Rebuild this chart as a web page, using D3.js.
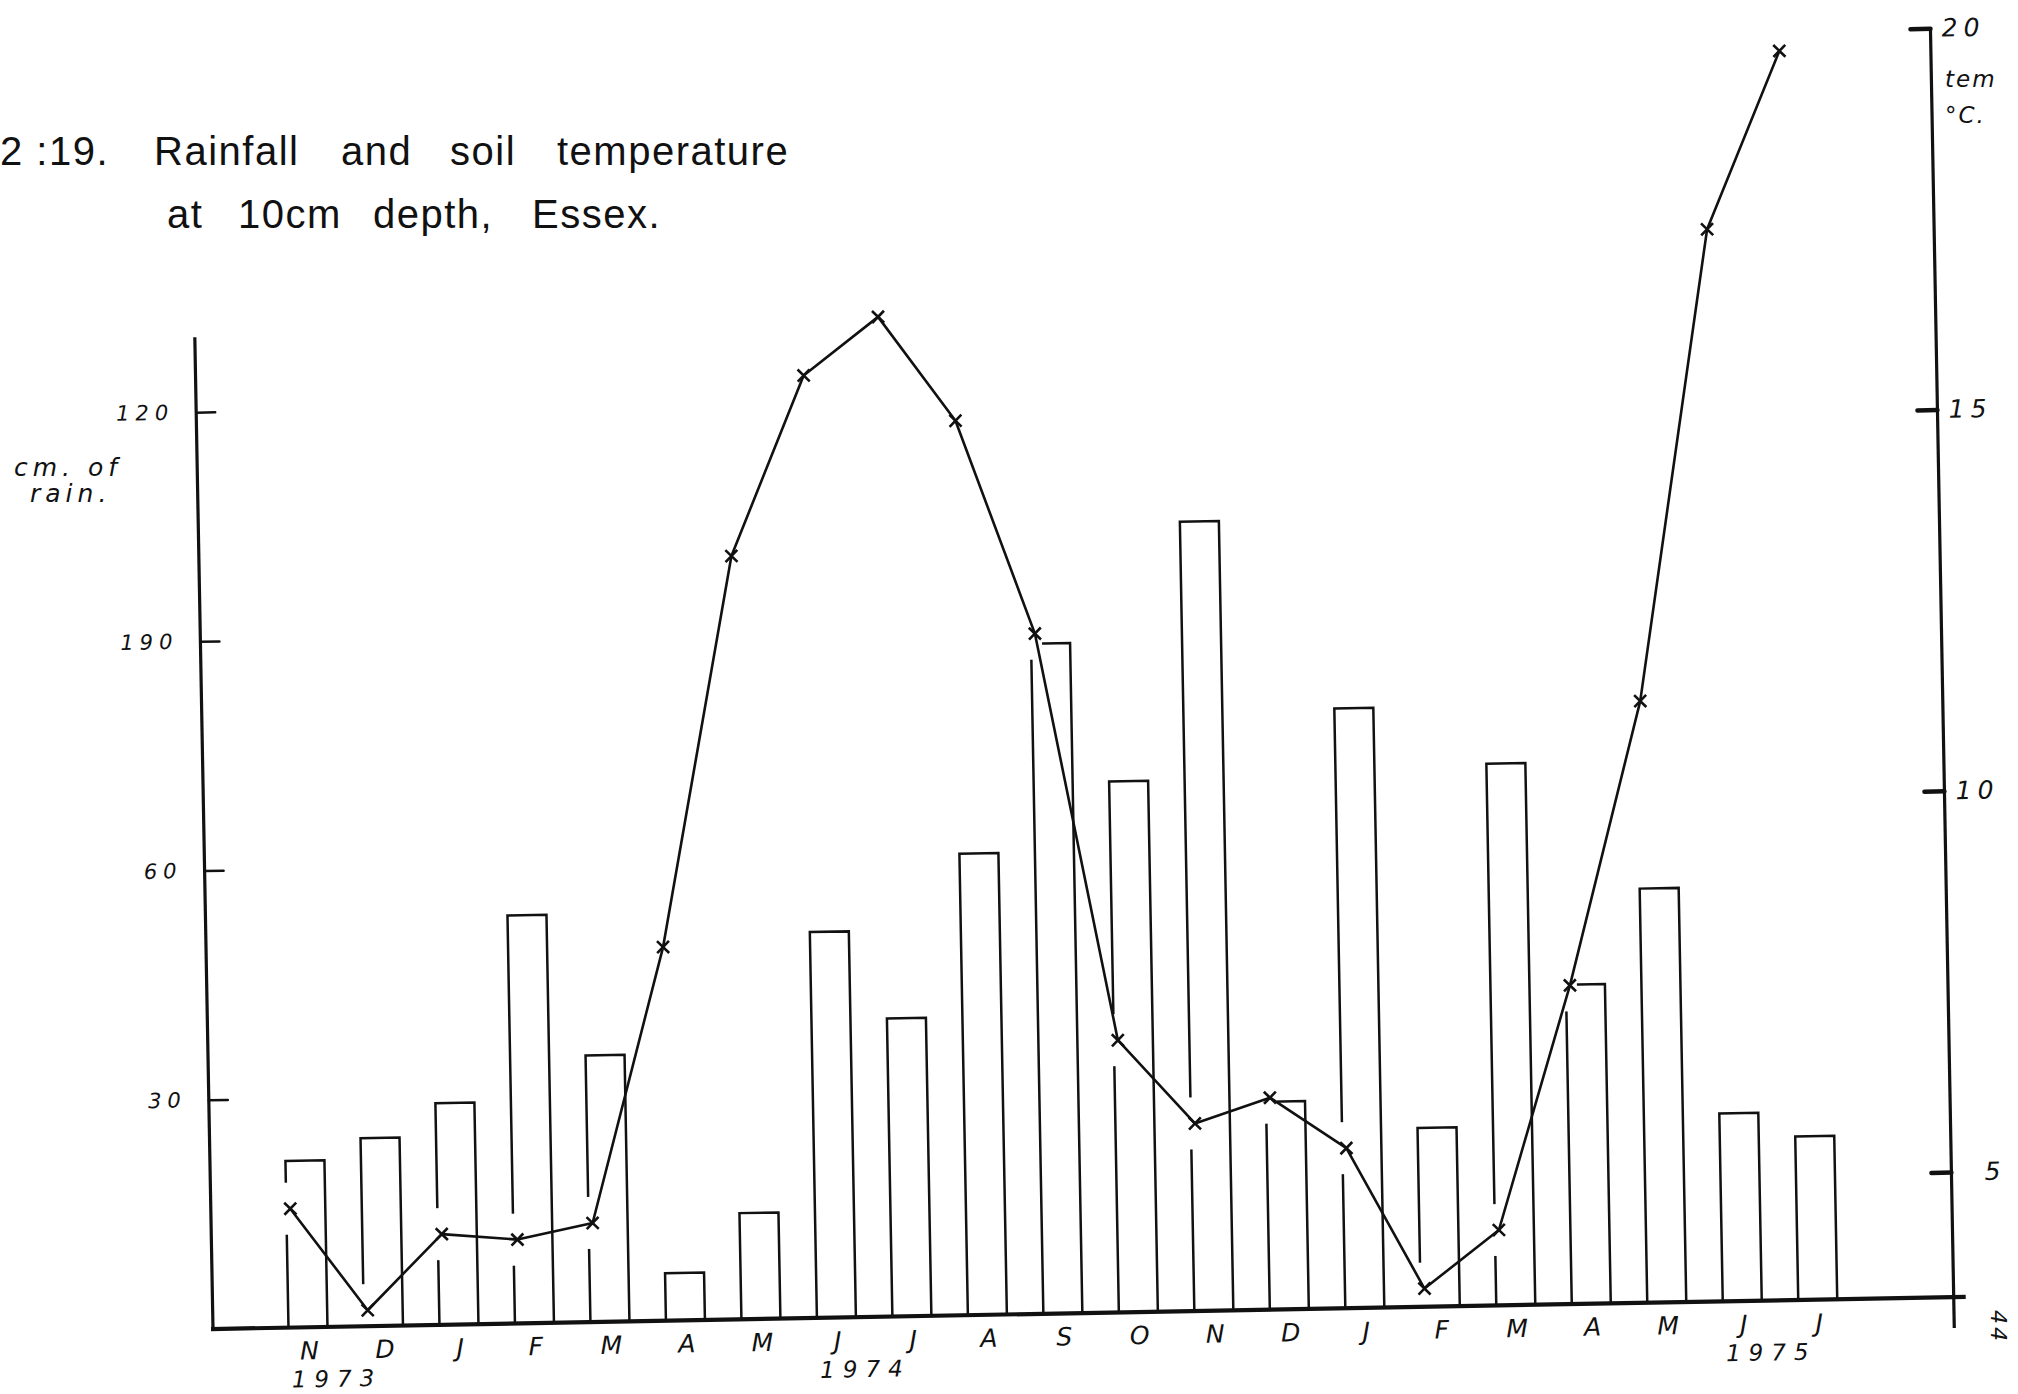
<!DOCTYPE html>
<html lang="en">
<head>
<meta charset="utf-8">
<title>Rainfall and soil temperature</title>
<script src="https://d3js.org/d3.v7.min.js"></script>
<style>
  body { margin: 0; background: #fff; }
  svg { display: block; background: #fff; }
  .title { font-family: "Liberation Sans", Arial, sans-serif; font-size: 40px; fill: #111; letter-spacing: 1.5px; }
  .lbl { font-family: "DejaVu Sans", sans-serif; font-style: italic; fill: #111; }
  .axis path.domain { display: none; }
  .axis line { stroke: #111; stroke-linecap: round; }
</style>
</head>
<body>
<div id="chart"></div>
<script>
// months Nov 1973 .. Jul 1975
var months = ["N","D","J","F","M","A","M","J","J","A","S","O","N","D","J","F","M","A","M","J","J"];
// monthly rainfall, read against the left scale
var rain = [21.8, 24.6, 29.0, 53.4, 34.9, 6.2, 13.9, 50.5, 39.0, 60.4, 87.7,
            69.5, 103.3, 27.2, 78.5, 23.4, 70.9, 41.8, 54.2, 24.6, 21.4];
// soil temperature at 10 cm (deg C), right scale
var temp = [4.92, 3.57, 4.55, 4.46, 4.66, 8.26, 13.37, 15.72, 16.47, 15.09, 12.28,
            6.93, 5.82, 6.14, 5.46, 3.6, 4.35, 7.54, 11.25, 17.42, 19.74];
var yearLabels = ["1973", "1974", "1975"];
var yearAt = [0, 7, 19];
var rainTicks = [30, 60, 90, 120];
var rainTickLabels = ["30", "60", "190", "120"];   // as printed
var tempTicks = [5, 10, 15, 20];

var W = 2018, H = 1394;
var ox = 213, oy = 1329;      // bottom of the left axis
var rightX = 1954;            // right (temperature) axis
var barW = 39;

var svg = d3.select("#chart").append("svg")
    .attr("width", W)
    .attr("height", H);

// the scanned drawing sits about a degree off square
var g = svg.append("g")
    .attr("transform", "rotate(-1.05," + ox + "," + oy + ")");

var x = d3.scalePoint()
    .domain(d3.range(months.length))
    .range([308, 1818]);

var yRain = d3.scaleLinear()
    .domain([0, 120])
    .range([oy, 412]);

var yTemp = d3.scaleLinear()
    .domain([5, 20])
    .range([1204, 60]);

// bars (open at the bottom)
g.append("g").selectAll("path")
  .data(rain)
  .enter().append("path")
    .attr("fill", "none")
    .attr("stroke", "#111")
    .attr("stroke-width", 2.5)
    .attr("d", function(d, i) {
      var x0 = x(i) - barW / 2, x1 = x(i) + barW / 2;
      return "M" + x0 + "," + oy + "V" + yRain(d) + "H" + x1 + "V" + oy;
    });

// axes lines
g.append("line")
    .attr("x1", ox).attr("y1", 337).attr("x2", ox).attr("y2", oy)
    .attr("stroke", "#111").attr("stroke-width", 3.2);
g.append("line")
    .attr("x1", rightX).attr("y1", yTemp(20)).attr("x2", rightX).attr("y2", oy + 31)
    .attr("stroke", "#111").attr("stroke-width", 3.2);

// left axis: ticks point inwards
var leftAxis = g.append("g")
    .attr("class", "axis")
    .attr("transform", "translate(" + ox + ",0)")
    .call(d3.axisLeft(yRain)
      .tickValues(rainTicks)
      .tickFormat(function(d, i) { return rainTickLabels[i]; })
      .tickSize(-19)
      .tickPadding(22));
leftAxis.selectAll("line").attr("stroke-width", 2.5);
leftAxis.selectAll("text")
    .attr("class", "lbl")
    .attr("font-size", 21)
    .attr("letter-spacing", 6)
    .attr("fill", "#111");

// right axis
var rightAxis = g.append("g")
    .attr("class", "axis")
    .attr("transform", "translate(" + rightX + ",0)")
    .call(d3.axisRight(yTemp)
      .tickValues(tempTicks)
      .tickSize(-20)
      .tickPadding(14));
rightAxis.selectAll("line").attr("stroke-width", 4.5);
rightAxis.selectAll("text")
    .attr("class", "lbl")
    .attr("font-size", 25)
    .attr("letter-spacing", 6)
    .attr("text-anchor", "end")
    .attr("x", 55)
    .attr("fill", "#111");

// month and year labels
g.append("g").selectAll("text")
  .data(months)
  .enter().append("text")
    .attr("class", "lbl")
    .attr("font-size", 25)
    .attr("text-anchor", "middle")
    .attr("x", function(d, i) { return x(i) + 1; })
    .attr("y", oy + 32)
    .text(function(d) { return d; });

g.append("g").selectAll("text")
  .data(yearLabels)
  .enter().append("text")
    .attr("class", "lbl")
    .attr("font-size", 23)
    .attr("letter-spacing", 8)
    .attr("text-anchor", "middle")
    .attr("x", function(d, i) { return x(yearAt[i]) + 0.32 * x.step() + 4; })
    .attr("y", oy + 60)
    .text(function(d) { return d; });

// temperature line with x markers; the bar edges break where the line meets them
var tx = function(i) { return x(i) - barW / 2 + 4; };
g.append("g").selectAll("rect")
  .data(temp)
  .enter().append("rect")
    .attr("fill", "#fff")
    .attr("x", function(d, i) { return tx(i) - 7; })
    .attr("y", function(d) { return yTemp(d) - 26; })
    .attr("width", 14)
    .attr("height", 52);

// baseline goes on top of the gaps
g.append("line")
    .attr("x1", ox - 2).attr("y1", oy).attr("x2", rightX + 12).attr("y2", oy)
    .attr("stroke", "#111").attr("stroke-width", 4.2);

g.append("path")
    .datum(temp)
    .attr("fill", "none")
    .attr("stroke", "#111")
    .attr("stroke-width", 2.6)
    .attr("stroke-linejoin", "round")
    .attr("d", d3.line()
      .x(function(d, i) { return tx(i); })
      .y(function(d) { return yTemp(d); }));

g.append("g").selectAll("path")
  .data(temp)
  .enter().append("path")
    .attr("stroke", "#111")
    .attr("stroke-width", 2.6)
    .attr("d", function(d, i) {
      var cx = tx(i), cy = yTemp(d), s = 6;
      return "M" + (cx - s) + "," + (cy - s) + "L" + (cx + s) + "," + (cy + s) +
             "M" + (cx - s) + "," + (cy + s) + "L" + (cx + s) + "," + (cy - s);
    });

// unit labels
var ul = svg.append("g").attr("class", "lbl");
ul.append("text").attr("x", 14).attr("y", 476).attr("font-size", 25)
    .attr("letter-spacing", 5).text("cm. of");
ul.append("text").attr("x", 30).attr("y", 502).attr("font-size", 25)
    .attr("letter-spacing", 5).text("rain.");
ul.append("text").attr("x", 1945).attr("y", 87).attr("font-size", 23)
    .attr("letter-spacing", 2).text("tem");
ul.append("text").attr("x", 1945).attr("y", 123).attr("font-size", 23)
    .attr("letter-spacing", 2).text("°C.");
ul.append("text").attr("font-size", 22).attr("letter-spacing", 3)
    .attr("transform", "translate(1991,1310) rotate(90)").text("44");

// title
var t1 = svg.append("text").attr("class", "title").attr("y", 165);
t1.append("tspan").attr("x", 0).text("2 :19.");
t1.append("tspan").attr("x", 154).text("Rainfall");
t1.append("tspan").attr("x", 341).text("and");
t1.append("tspan").attr("x", 450).text("soil");
t1.append("tspan").attr("x", 557).text("temperature");
var t2 = svg.append("text").attr("class", "title").attr("y", 228);
t2.append("tspan").attr("x", 167).text("at");
t2.append("tspan").attr("x", 238).text("10cm");
t2.append("tspan").attr("x", 373).text("depth,");
t2.append("tspan").attr("x", 532).text("Essex.");
</script>
</body>
</html>
